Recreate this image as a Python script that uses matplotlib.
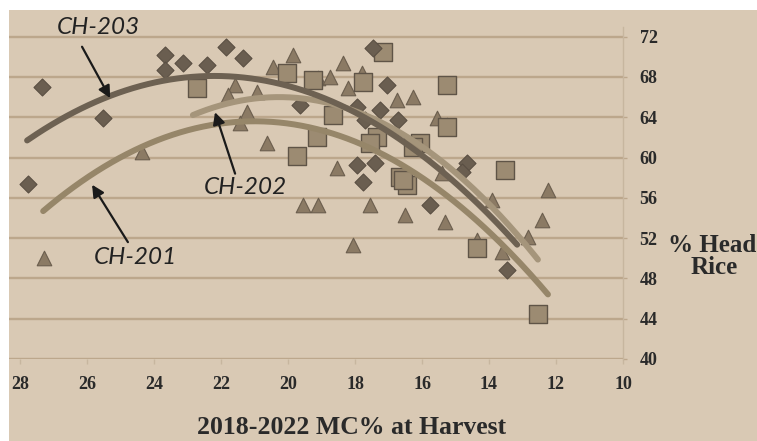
import matplotlib
matplotlib.use("Agg")
import matplotlib.pyplot as plt
from matplotlib.patches import Rectangle
import numpy as np

# CH-203 (diamonds): MC% at harvest, % head rice
ch203_mc = [27.34, 27.76, 25.52, 23.67, 23.67, 23.13, 22.42, 21.85, 21.34, 17.46,
            17.04, 17.94, 17.70, 17.25, 16.72, 17.94, 17.40, 17.76, 15.76, 14.66,
            14.81, 13.46, 19.64]
ch203_hr = [67.0, 57.4, 63.9, 70.2, 68.7, 69.4, 69.2, 71.0, 69.9, 70.9,
            67.2, 65.0, 63.7, 64.7, 63.7, 59.3, 59.5, 57.6, 55.3, 59.5,
            58.6, 48.8, 65.2]

# CH-202 (squares)
ch202_mc = [22.72, 17.16, 20.03, 19.25, 17.76, 15.25, 18.66, 19.73, 16.66, 16.45,
            16.06, 15.25, 17.34, 13.52, 16.27, 14.36, 12.54, 16.57, 19.13, 17.55]
ch202_hr = [66.9, 70.5, 68.4, 67.7, 67.5, 67.2, 64.2, 60.2, 58.1, 57.3,
            61.4, 63.0, 62.0, 58.8, 61.0, 51.0, 44.5, 57.8, 62.0, 61.4]

# CH-201 (triangles)
ch201_mc = [27.28, 24.36, 21.58, 21.79, 20.93, 21.22, 21.43, 20.45, 19.85, 20.63,
            19.10, 18.75, 18.36, 17.79, 18.21, 16.27, 16.75, 15.55, 15.25, 18.54,
            19.55, 19.10, 17.55, 16.51, 18.06, 12.24, 15.31, 13.91, 12.42, 12.84,
            14.36, 13.61, 15.40]
ch201_hr = [50.0, 60.5, 67.2, 66.2, 66.5, 64.5, 63.4, 69.0, 70.2, 61.4,
            67.9, 68.0, 69.4, 68.4, 66.9, 66.0, 65.7, 63.9, 63.2, 59.0,
            55.3, 55.3, 55.3, 54.3, 51.3, 56.8, 53.6, 55.8, 53.8, 52.1,
            51.8, 50.6, 58.5]

# quadratic trend lines (vertex form a*(x-h)^2 + k) and their x spans
trend_names = ['CH-201', 'CH-202', 'CH-203']
trend_a = [-0.224, -0.27, -0.205]
trend_h = [21.0, 20.27, 22.2]
trend_k = [63.6, 66.0, 68.1]
trend_x0 = [27.31, 22.84, 27.79]
trend_x1 = [12.24, 12.54, 13.16]
trend_colors = ['#968669', '#a5957b', '#6d6152']

x_ticks = [28, 26, 24, 22, 20, 18, 16, 14, 12, 10]
y_ticks = [40, 44, 48, 52, 56, 60, 64, 68, 72]

# label text position, arrow tail, arrow tip
label_pos = {'CH-203': (25.67, 72.9), 'CH-202': (21.28, 57.0), 'CH-201': (24.57, 50.1)}
arrow_tail = {'CH-203': (26.15, 71.0), 'CH-202': (21.58, 58.4), 'CH-201': (24.78, 51.6)}
arrow_tip = {'CH-203': (25.31, 65.9), 'CH-202': (22.18, 64.5), 'CH-201': (25.85, 57.3)}

bg = '#d9c9b4'
grid_c = '#bca78c'

fig = plt.figure(figsize=(7.57, 4.41), dpi=100, facecolor='white')
fig.patches.append(Rectangle((9 / 757, 0), 1, (441 - 10) / 441,
                             transform=fig.transFigure, facecolor=bg,
                             edgecolor='none', zorder=-10))
ax = fig.add_axes([9 / 757, 0.186, (623 - 9) / 757, 0.9397 - 0.186])
ax.patch.set_alpha(0)

ax.set_xlim(28.33, 10)
ax.set_ylim(40, 73)

for v in y_ticks:
    ax.axhline(v, color=grid_c, lw=1.7, zorder=1)

ax.scatter(ch201_mc, ch201_hr, marker='^', s=110, facecolor='#8b7a64',
           edgecolor='#6b5e4e', linewidth=0.8, zorder=3)
ax.scatter(ch202_mc, ch202_hr, marker='s', s=150, facecolor='#9c8b72',
           edgecolor='#5f5447', linewidth=1.0, zorder=3)
ax.scatter(ch203_mc, ch203_hr, marker='D', s=75, facecolor='#6a5e50',
           edgecolor='#5a4f43', linewidth=0.8, zorder=3)

for i, name in enumerate(trend_names):
    xs = np.linspace(trend_x0[i], trend_x1[i], 200)
    ys = trend_a[i] * (xs - trend_h[i]) ** 2 + trend_k[i]
    ax.plot(xs, ys, color=trend_colors[i], lw=4.3, solid_capstyle='round',
            zorder=4 + i)

for name in trend_names:
    ax.annotate('', xy=arrow_tip[name], xytext=arrow_tail[name],
                arrowprops=dict(arrowstyle='-|>', color='#1a1a1a', lw=1.6,
                                mutation_scale=18, shrinkA=0, shrinkB=0),
                zorder=8)
    ax.text(*label_pos[name], name, fontsize=17.5, style='italic', family='Lato',
            color='#222222', ha='center', va='center', zorder=8, clip_on=False)

for s in ['top', 'left', 'bottom']:
    ax.spines[s].set_visible(False)
ax.spines['right'].set_color('#c7b69f')
ax.spines['right'].set_linewidth(1.0)
ax.spines['right'].set_bounds(40, 73)

ax.yaxis.tick_right()
ax.set_yticks(y_ticks)
ax.set_xticks(x_ticks)
ax.tick_params(axis='y', length=3, width=1, color=grid_c, pad=9)
ax.tick_params(axis='x', length=3.5, width=1, color='#c7b69f', pad=9, direction='out')
for lab in ax.get_xticklabels() + ax.get_yticklabels():
    lab.set_fontfamily('Liberation Serif')
    lab.set_fontweight('bold')
    lab.set_fontsize(13)
    lab.set_color('#2a2a2a')

fig.text(352 / 757, 1 - 428 / 441, '2018-2022 MC% at Harvest', ha='center', va='center',
         family='Liberation Serif', fontweight='bold', fontsize=18.5, color='#2a2a2a')
fig.text(712 / 757, 1 - 245 / 441, '% Head', ha='center', va='center',
         family='Liberation Serif', fontweight='bold', fontsize=18, color='#2a2a2a')
fig.text(714 / 757, 1 - 268 / 441, 'Rice', ha='center', va='center',
         family='Liberation Serif', fontweight='bold', fontsize=18, color='#2a2a2a')

fig.savefig('out.png', dpi=100, facecolor='white')
